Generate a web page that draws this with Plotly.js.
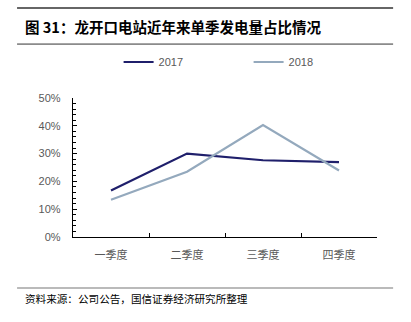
<!DOCTYPE html>
<html>
<head>
<meta charset="utf-8">
<script src="https://cdn.plot.ly/plotly-3.0.1.min.js"></script>
<style>html,body{margin:0;padding:0;background:#fff;}#chart{width:411px;height:322px;}</style>
</head>
<body>
<div id="chart"></div>
<script>
var categories = ["一季度", "二季度", "三季度", "四季度"];
var series2017 = [16.7, 30.0, 27.6, 26.9];
var series2018 = [13.4, 23.5, 40.3, 23.9];
var yTickVals = [0, 10, 20, 30, 40, 50];
var yTickText = ["0%", "10%", "20%", "30%", "40%", "50%"];

var font = "Arial, 'Liberation Sans', 'Noto Sans CJK SC', sans-serif";
var traces = [
  {x: categories, y: series2017, name: "2017", type: "scatter", mode: "lines",
   line: {color: "#1f1f6b", width: 2.2}},
  {x: categories, y: series2018, name: "2018", type: "scatter", mode: "lines",
   line: {color: "#94a9bd", width: 2.2}}
];
var layout = {
  width: 411, height: 322,
  margin: {l: 73, r: 34, t: 98, b: 85},
  paper_bgcolor: "#fff", plot_bgcolor: "#fff",
  font: {family: font, color: "#595959", size: 11},
  showlegend: true,
  legend: {orientation: "h", x: 0.15, xanchor: "left", y: 1.259, yanchor: "middle",
           font: {size: 11, color: "#595959"}, itemwidth: 30,
           entrywidthmode: "pixels", entrywidth: 85},
  xaxis: {type: "category", range: [-0.5, 3.5], showgrid: false, zeroline: false,
          showline: true, linecolor: "#000", linewidth: 1.2,
          ticks: "inside", ticklen: 4, tickcolor: "#000", tickson: "boundaries",
          ticklabelstandoff: 8,
          tickfont: {size: 11, color: "#595959", family: "'Noto Sans CJK SC', sans-serif"}},
  yaxis: {range: [0, 50], tickvals: yTickVals, ticktext: yTickText, showgrid: false,
          zeroline: false, showline: true, linecolor: "#000", linewidth: 1.2,
          ticks: "inside", ticklen: 4, tickcolor: "#000", ticklabelstandoff: 9,
          minor: {dtick: 2, ticks: "inside", ticklen: 3, tickcolor: "#000"},
          tickfont: {size: 11, color: "#595959"}},
  shapes: [
    {type: "line", xref: "paper", yref: "paper", x0: -0.184, x1: 1.053, y0: 1.647, y1: 1.647,
     line: {color: "#333", width: 1.5}},
    {type: "line", xref: "paper", yref: "paper", x0: -0.184, x1: 1.053, y0: 1.388, y1: 1.388,
     line: {color: "#333", width: 1}},
    {type: "line", xref: "paper", yref: "paper", x0: -0.184, x1: 1.053, y0: -0.367, y1: -0.367,
     line: {color: "#777", width: 1.2}}
  ],
  annotations: [
    {xref: "paper", yref: "paper", x: -0.164, y: 1.515, xanchor: "left", yanchor: "middle",
     showarrow: false, text: "<b>图 31：龙开口电站近年来单季发电量占比情况</b>",
     font: {size: 14.5, color: "#000", family: "'Noto Sans CJK SC', Arial, sans-serif"}},
    {xref: "paper", yref: "paper", x: -0.164, y: -0.44, xanchor: "left", yanchor: "middle",
     showarrow: false, text: "资料来源：公司公告，国信证券经济研究所整理",
     font: {size: 10.6, color: "#000", family: "'Noto Sans CJK SC', sans-serif"}}
  ]
};
Plotly.newPlot("chart", traces, layout, {displayModeBar: false, staticPlot: true});
</script>
</body>
</html>
